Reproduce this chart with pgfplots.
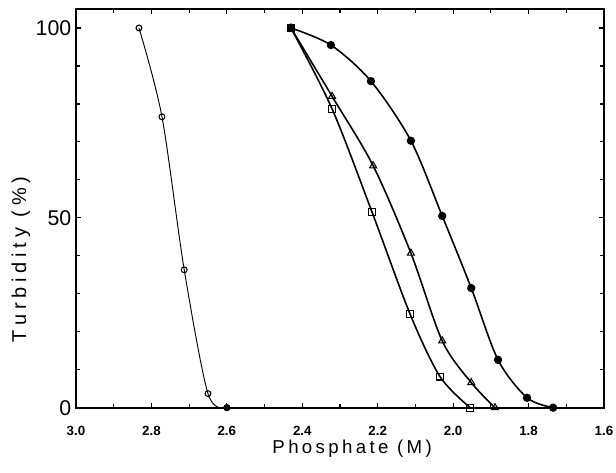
\documentclass[border=0pt]{standalone}
\usepackage{pgfplots}
\pgfplotsset{compat=1.18}
\usepackage{fontspec}
\setmainfont{Liberation Sans}
\newfontfamily\labfont[LetterSpace=18]{Liberation Sans}
\newfontfamily\ylabfont[LetterSpace=24]{Liberation Sans}
\begin{document}
\begin{tikzpicture}
\path[use as bounding box] (-57pt,-49pt) rectangle (405pt,305.75pt);
\begin{axis}[
  scale only axis, width=396pt, height=299pt,
  x dir=reverse, xmin=1.6, xmax=3.0, ymin=0, ymax=105,
  xtick={1.6,1.8,2.0,2.2,2.4,2.6,2.8,3.0},
  xticklabels={1.6,1.8,2.0,2.2,2.4,2.6,2.8,3.0},
  minor xtick={1.7,1.9,2.1,2.3,2.5,2.7,2.9},
  ytick={0,50,100}, yticklabels={0,50,100},
  minor ytick={10,20,30,40,60,70,80,90},
  tick align=inside,
  major tick length=3.5pt, minor tick length=3pt,
  every tick/.style={black, line width=0.9pt},
  axis line style={line width=1.3pt},
  /pgf/number format/assume math mode=true,
  xticklabel style={font=\bfseries\fontsize{10}{12}\selectfont, yshift=-10pt},
  yticklabel style={font=\fontsize{16}{18}\selectfont, xshift=0pt},
  xlabel={\labfont\fontsize{14}{16}\selectfont Phosphate (M)},
  ylabel={\ylabfont\fontsize{15}{17}\selectfont Turbidity (\%)},
  xlabel style={at={(axis description cs:0.523,-0.102)}, anchor=center},
  ylabel style={at={(axis description cs:-0.104,0.372)}, anchor=center},
  clip=false,
]
% open circles
\addplot[black, line width=0.7pt, smooth, mark=o, mark size=2.2pt, mark options={line width=0.8pt}]
  coordinates {(2.833,100) (2.772,76.6) (2.713,36.3) (2.650,3.7) (2.600,0)};
\addplot[only marks, mark=*, mark size=2.4pt, black] coordinates {(2.600,0)};
% filled circles
\addplot[black, line width=1.2pt, smooth, mark=*, mark size=2.5pt]
  coordinates {(2.430,100) (2.324,95.5) (2.218,86) (2.112,70.3) (2.029,50.5) (1.952,31.5) (1.881,12.6) (1.804,2.6) (1.735,0)};
% triangles
\addplot[black, line width=1.2pt, smooth, mark=triangle, mark size=3pt, mark options={fill=white, line width=0.8pt}]
  coordinates {(2.430,100) (2.321,82) (2.212,63.7) (2.112,40.7) (2.029,17.6) (1.952,6.6) (1.889,0)};
% squares
\addplot[black, line width=1.2pt, smooth, mark=square, mark size=2.6pt, mark options={fill=white, line width=0.8pt}]
  coordinates {(2.430,100) (2.321,78.7) (2.215,51.5) (2.114,24.6) (2.035,8.2) (1.955,0)};
\addplot[only marks, mark=*, mark size=2.6pt, black] coordinates {(2.430,100)};
\end{axis}
\end{tikzpicture}
\end{document}
